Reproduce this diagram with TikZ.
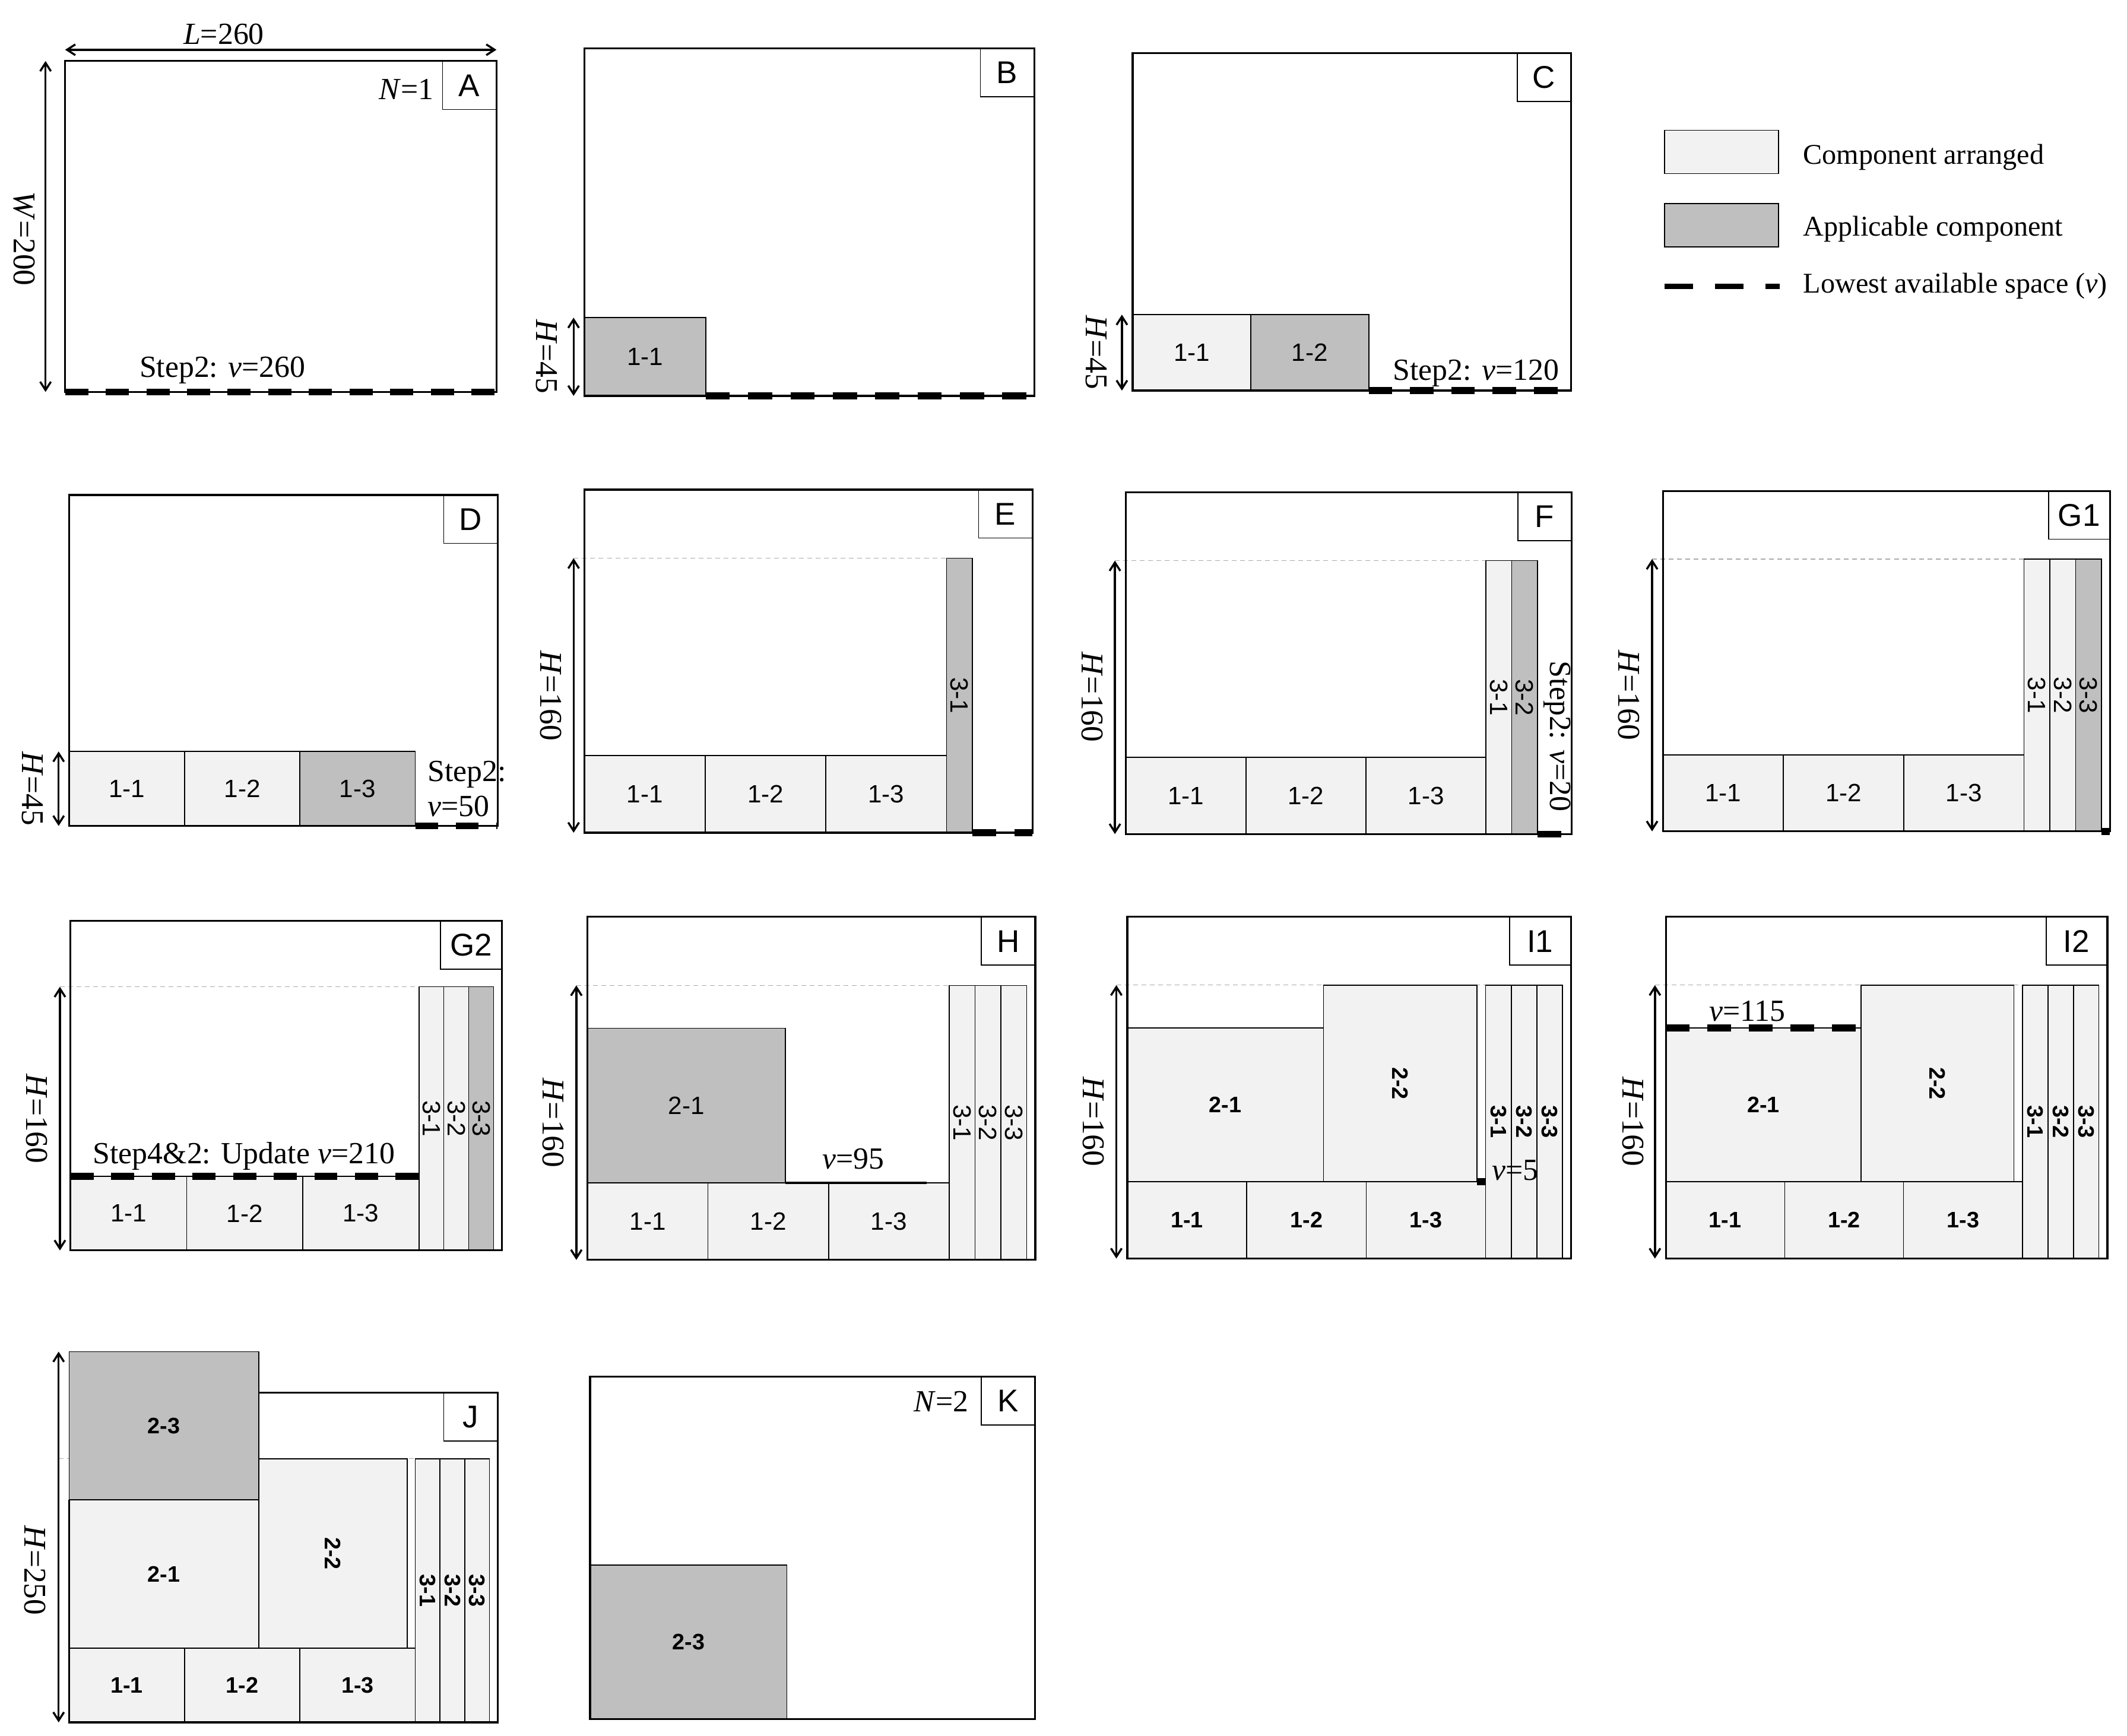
\documentclass[tikz,border=0pt]{standalone}
\usepackage{fontspec}
\setmainfont{Liberation Serif}
\newfontfamily\sansf{Liberation Sans}
\usetikzlibrary{arrows.meta}

\definecolor{compL}{RGB}{242,242,242}
\definecolor{compA}{RGB}{191,191,191}
\definecolor{guideC}{RGB}{170,170,170}

\newcommand\setdash[1]{\pgfmathsetmacro\dOn{7.94*#1}\pgfmathsetmacro\dOff{6.0*#1}}
\newcommand\cbox[8]{%
  \path[#1] (#4,#5) rectangle (#6,#7);
  \node[#2] (#3) at ({(#4+#6)/2},{(#5+#7)/2}) {#8};}

\tikzset{
  panelbox/.style={line width=0.8pt},
  compl/.style={fill=compL, draw=black, line width=0.4pt},
  compa/.style={fill=compA, draw=black, line width=0.4pt},
  clab/.style={font=\sansf\fontsize{10.5}{12}\selectfont, inner sep=0pt},
  clabr/.style={clab, rotate=-90},
  clabb/.style={font=\sansf\bfseries\fontsize{9.4}{11}\selectfont, inner sep=0pt},
  clabbr/.style={clabb, rotate=-90},
  plab/.style={draw=black, line width=0.4pt, fill=white, font=\sansf\fontsize{13.2}{15}\selectfont, minimum width=22.4pt, minimum height=20.1pt, inner sep=0pt, anchor=north east},
  plabw/.style={plab, minimum width=25.5pt},
  ann/.style={font=\fontsize{12.9}{15}\selectfont, inner sep=0pt},
  axl/.style={font=\fontsize{13.3}{15}\selectfont, inner sep=0pt, rotate=-90},
  leg/.style={font=\fontsize{12}{14}\selectfont, inner sep=0pt, anchor=base west},
  dim/.style={line width=0.85pt, >={Straight Barb[length=3.5pt,width=4.5pt]}, <->},
  guide/.style={draw=guideC, line width=0.3pt, dash pattern=on 2pt off 1.5pt},
  vdash/.style={line width=2.9pt, dash pattern=on \dOn pt off \dOff pt},
}

\begin{document}
\begin{tikzpicture}[x=0.02cm, y=-0.02cm]
\useasboundingbox[fill=white] (0,0) rectangle (1568,1280);

% ---------------- A
\begin{scope}[shift={(48,289)}, xscale=1.2231, yscale=-1.22]
  \setdash{1.2231}
  \draw[panelbox] (0,0) rectangle (260,200);
  \node[plab] (labA) at (260,200) {A};
  \draw[vdash] (0,0) -- (260,0);
  \draw[dim] (-11.8,0) -- (-11.8,200);
  \draw[dim] (0,206.8) -- (260,206.8);
\end{scope}
\node[ann, anchor=base] (tL) at (165,32.4) {\textit{L}=260};
\node[ann, anchor=base] (tN1) at (299.5,73.5) {\textit{N}=1};
\node[ann, anchor=base] (tA) at (164,278) {Step2: \textit{v}=260};
\node[axl] (tW) at (18,176) {\textit{W}=200};

% ---------------- B
\begin{scope}[shift={(431,291.9)}, xscale=1.275, yscale=-1.2815]
  \setdash{1.275}
  \cbox{compa}{clab}{b11}{0}{0}{70}{45}{1-1}
  \draw[panelbox] (0,0) rectangle (260,200);
  \node[plab] (labB) at (260,200) {B};
  \draw[vdash] (70,0) -- (260,0);
  \draw[dim] (-6.4,0) -- (-6.4,45);
\end{scope}
\node[axl] (tB) at (403,263) {\textit{H}=45};

% ---------------- C
\begin{scope}[shift={(835,288)}, xscale=1.243, yscale=-1.244]
  \setdash{1.243}
  \cbox{compl}{clab}{c11}{0}{0}{70}{45}{1-1}
  \cbox{compa}{clab}{c12}{70}{0}{140}{45}{1-2}
  \draw[panelbox] (0,0) rectangle (260,200);
  \node[plab] (labC) at (260,200) {C};
  \draw[vdash] (140,0) -- (260,0);
  \draw[dim] (-6.4,0) -- (-6.4,45);
\end{scope}
\node[axl] (tC) at (808,260) {\textit{H}=45};
\node[ann, anchor=base] (tC2) at (1088,280.5) {Step2: \textit{v}=120};

% ---------------- D
\begin{scope}[shift={(51,609)}, xscale=1.215, yscale=-1.22]
  \setdash{1.215}
  \cbox{compl}{clab}{d11}{0}{0}{70}{45}{1-1}
  \cbox{compl}{clab}{d12}{70}{0}{140}{45}{1-2}
  \cbox{compa}{clab}{d13}{140}{0}{210}{45}{1-3}
  \draw[panelbox] (0,0) rectangle (260,200);
  \node[plab] (labD) at (260,200) {D};
  \draw[vdash] (210,0) -- (260,0);
  \draw[dim] (-6.4,0) -- (-6.4,45);
\end{scope}
\node[axl] (tD) at (24,581.5) {\textit{H}=45};
\node[ann, anchor=base west] (tD1) at (315,576) {Step2:};
\node[ann, anchor=base west] (tD2) at (315,602) {\textit{v}=50};

% ---------------- E
\begin{scope}[shift={(431,614)}, xscale=1.27, yscale=-1.265]
  \setdash{1.27}
  \draw[guide] (-6.4,160) -- (210,160);
  \cbox{compl}{clab}{e11}{0}{0}{70}{45}{1-1}
  \cbox{compl}{clab}{e12}{70}{0}{140}{45}{1-2}
  \cbox{compl}{clab}{e13}{140}{0}{210}{45}{1-3}
  \cbox{compa}{clabr}{e31}{210}{0}{225}{160}{3-1}
  \draw[panelbox] (0,0) rectangle (260,200);
  \node[plab] (labE) at (260,200) {E};
  \draw[vdash] (225,0) -- (260,0);
  \draw[dim] (-6.4,0) -- (-6.4,160);
\end{scope}
\node[axl] (tE) at (406,513) {\textit{H}=160};

% ---------------- F
\begin{scope}[shift={(830,615)}, xscale=1.264, yscale=-1.26]
  \setdash{1.264}
  \draw[guide] (-6.4,160) -- (210,160);
  \cbox{compl}{clab}{f11}{0}{0}{70}{45}{1-1}
  \cbox{compl}{clab}{f12}{70}{0}{140}{45}{1-2}
  \cbox{compl}{clab}{f13}{140}{0}{210}{45}{1-3}
  \cbox{compl}{clabr}{f31}{210}{0}{225}{160}{3-1}
  \cbox{compa}{clabr}{f32}{225}{0}{240}{160}{3-2}
  \draw[panelbox] (0,0) rectangle (260,200);
  \node[plab] (labF) at (260,200) {F};
  \draw[vdash] (240,0) -- (260,0);
  \draw[dim] (-6.4,0) -- (-6.4,160);
\end{scope}
\node[axl] (tF) at (805,514) {\textit{H}=160};
\node[ann, rotate=-90] (tF2) at (1148,543) {Step2: \textit{v}=20};

% ---------------- G1
\begin{scope}[shift={(1226,613)}, xscale=1.267, yscale=-1.255]
  \setdash{1.267}
  \draw[guide] (-6.4,160) -- (210,160);
  \cbox{compl}{clab}{g11}{0}{0}{70}{45}{1-1}
  \cbox{compl}{clab}{g12}{70}{0}{140}{45}{1-2}
  \cbox{compl}{clab}{g13}{140}{0}{210}{45}{1-3}
  \cbox{compl}{clabr}{g31}{210}{0}{225}{160}{3-1}
  \cbox{compl}{clabr}{g32}{225}{0}{240}{160}{3-2}
  \cbox{compa}{clabr}{g33}{240}{0}{255}{160}{3-3}
  \draw[panelbox] (0,0) rectangle (260,200);
  \node[plabw] (labG1) at (260,200) {G1};
  \draw[vdash] (255,0) -- (260,0);
  \draw[dim] (-6.4,0) -- (-6.4,160);
\end{scope}
\node[axl] (tG1) at (1201,512.6) {\textit{H}=160};

% ---------------- G2
\begin{scope}[shift={(52,922)}, xscale=1.223, yscale=-1.215]
  \setdash{1.223}
  \draw[guide] (-6.4,160) -- (210,160);
  \cbox{compl}{clab}{h11}{0}{0}{70}{45}{1-1}
  \cbox{compl}{clab}{h12}{70}{0}{140}{45}{1-2}
  \cbox{compl}{clab}{h13}{140}{0}{210}{45}{1-3}
  \cbox{compl}{clabr}{h31}{210}{0}{225}{160}{3-1}
  \cbox{compl}{clabr}{h32}{225}{0}{240}{160}{3-2}
  \cbox{compa}{clabr}{h33}{240}{0}{255}{160}{3-3}
  \draw[panelbox] (0,0) rectangle (260,200);
  \node[plabw] (labG2) at (260,200) {G2};
  \draw[vdash] (0,45) -- (210,45);
  \draw[dim] (-6.4,0) -- (-6.4,160);
\end{scope}
\node[axl] (tG2) at (27,824.8) {\textit{H}=160};
\node[ann, anchor=base] (tG2b) at (179.8,858) {Step4\&2: Update \textit{v}=210};

% ---------------- H
\begin{scope}[shift={(433,929)}, xscale=1.27, yscale=-1.265]
  \setdash{1.27}
  \draw[guide] (-6.4,160) -- (210,160);
  \cbox{compl}{clab}{k11}{0}{0}{70}{45}{1-1}
  \cbox{compl}{clab}{k12}{70}{0}{140}{45}{1-2}
  \cbox{compl}{clab}{k13}{140}{0}{210}{45}{1-3}
  \cbox{compa}{clab}{k21}{0}{45}{115}{135}{2-1}
  \cbox{compl}{clabr}{k31}{210}{0}{225}{160}{3-1}
  \cbox{compl}{clabr}{k32}{225}{0}{240}{160}{3-2}
  \cbox{compl}{clabr}{k33}{240}{0}{255}{160}{3-3}
  \draw[line width=1.1pt] (115,45) -- (197,45);
  \draw[panelbox] (0,0) rectangle (260,200);
  \node[plab] (labH) at (260,200) {H};
  \draw[dim] (-6.4,0) -- (-6.4,160);
\end{scope}
\node[axl] (tH) at (408,827.8) {\textit{H}=160};
\node[ann, anchor=base] (tH2) at (629,862) {\textit{v}=95};

% ---------------- I1
\begin{scope}[shift={(831,928)}, xscale=1.258, yscale=-1.26]
  \setdash{1.258}
  \draw[guide] (-6.4,160) -- (210,160);
  \cbox{compl}{clabb}{m11}{0}{0}{70}{45}{1-1}
  \cbox{compl}{clabb}{m12}{70}{0}{140}{45}{1-2}
  \cbox{compl}{clabb}{m13}{140}{0}{210}{45}{1-3}
  \cbox{compl}{clabb}{m21}{0}{45}{115}{135}{2-1}
  \cbox{compl}{clabbr}{m22}{115}{45}{205}{160}{2-2}
  \cbox{compl}{clabbr}{m31}{210}{0}{225}{160}{3-1}
  \cbox{compl}{clabbr}{m32}{225}{0}{240}{160}{3-2}
  \cbox{compl}{clabbr}{m33}{240}{0}{255}{160}{3-3}
  \draw[panelbox] (0,0) rectangle (260,200);
  \node[plabw] (labI1) at (260,200) {I1};
  \draw[line width=2.9pt] (205,45) -- (210,45);
  \draw[dim] (-6.4,0) -- (-6.4,160);
\end{scope}
\node[axl] (tI1) at (806,827) {\textit{H}=160};
\node[ann, anchor=base] (tI1b) at (1117,870) {\textit{v}=5};

% ---------------- I2
\begin{scope}[shift={(1228,928)}, xscale=1.252, yscale=-1.26]
  \setdash{1.252}
  \draw[guide] (-6.4,160) -- (210,160);
  \cbox{compl}{clabb}{n11}{0}{0}{70}{45}{1-1}
  \cbox{compl}{clabb}{n12}{70}{0}{140}{45}{1-2}
  \cbox{compl}{clabb}{n13}{140}{0}{210}{45}{1-3}
  \cbox{compl}{clabb}{n21}{0}{45}{115}{135}{2-1}
  \cbox{compl}{clabbr}{n22}{115}{45}{205}{160}{2-2}
  \cbox{compl}{clabbr}{n31}{210}{0}{225}{160}{3-1}
  \cbox{compl}{clabbr}{n32}{225}{0}{240}{160}{3-2}
  \cbox{compl}{clabbr}{n33}{240}{0}{255}{160}{3-3}
  \draw[panelbox] (0,0) rectangle (260,200);
  \node[plabw] (labI2) at (260,200) {I2};
  \draw[vdash] (0,135) -- (115,135);
  \draw[dim] (-6.4,0) -- (-6.4,160);
\end{scope}
\node[axl] (tI2) at (1204,827) {\textit{H}=160};
\node[ann, anchor=base] (tI2b) at (1288,753) {\textit{v}=115};

% ---------------- J
\begin{scope}[shift={(51,1270)}, xscale=1.215, yscale=-1.215]
  \setdash{1.215}
  \draw[guide] (-6.4,160) -- (210,160);
  \cbox{compl}{clabb}{j11}{0}{0}{70}{45}{1-1}
  \cbox{compl}{clabb}{j12}{70}{0}{140}{45}{1-2}
  \cbox{compl}{clabb}{j13}{140}{0}{210}{45}{1-3}
  \cbox{compl}{clabb}{j21}{0}{45}{115}{135}{2-1}
  \cbox{compl}{clabbr}{j22}{115}{45}{205}{160}{2-2}
  \cbox{compl}{clabbr}{j31}{210}{0}{225}{160}{3-1}
  \cbox{compl}{clabbr}{j32}{225}{0}{240}{160}{3-2}
  \cbox{compl}{clabbr}{j33}{240}{0}{255}{160}{3-3}
  \cbox{compa}{clabb}{j23}{0}{135}{115}{225}{2-3}
  \draw[panelbox] (115,200) -- (260,200) -- (260,0) -- (0,0) -- (0,135);
  \node[plab] (labJ) at (260,200) {J};
  \draw[dim] (-6.4,0) -- (-6.4,225);
\end{scope}
\node[axl] (tJ) at (26,1157.8) {\textit{H}=250};

% ---------------- K
\begin{scope}[shift={(435,1267.5)}, xscale=1.2615, yscale=-1.2625]
  \cbox{compa}{clabb}{p23}{0}{0}{115}{90}{2-3}
  \draw[panelbox] (0,0) rectangle (260,200);
  \node[plab] (labK) at (260,200) {K};
\end{scope}
\node[ann, anchor=base] (tK) at (694,1041) {\textit{N}=2};

% ---------------- legend
\path[compl] (1227,96) rectangle (1311,128);
\path[compa] (1227,150) rectangle (1311,182);
\draw[line width=2.3pt, dash pattern=on 11.9pt off 9.3pt] (1227,211) -- (1312,211);
\node[leg] (lg1) at (1329,121) {Component arranged};
\node[leg] (lg2) at (1329,174) {Applicable component};
\node[leg] (lg3) at (1329,216) {Lowest available space (\textit{v})};
\end{tikzpicture}
\end{document}
